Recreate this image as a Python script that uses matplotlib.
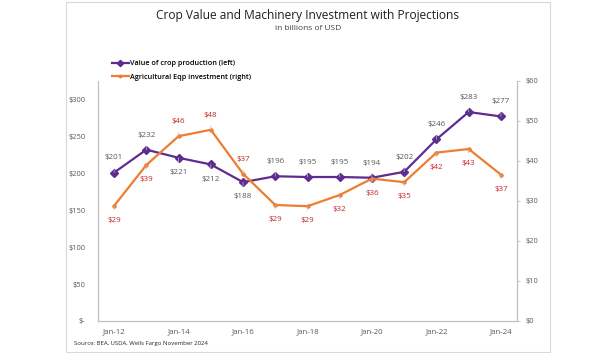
import matplotlib.pyplot as plt
from matplotlib.patches import Rectangle

plt.rcParams['font.family'] = ['Open Sans', 'DejaVu Sans']

# data (billions of USD)
years = ['Jan-12', 'Jan-13', 'Jan-14', 'Jan-15', 'Jan-16', 'Jan-17', 'Jan-18',
         'Jan-19', 'Jan-20', 'Jan-21', 'Jan-22', 'Jan-23', 'Jan-24']
crop_value = [201, 232, 221, 212, 188, 196, 195, 195, 194, 202, 246, 283, 277]
eqp_invest = [28.8, 39.0, 46.2, 47.8, 36.8, 29.0, 28.7, 31.5, 35.6, 34.7, 42.1, 43.0, 36.6]
left_ticks = [0, 50, 100, 150, 200, 250, 300]
right_ticks = [0, 10, 20, 30, 40, 50, 60]

# label side: 1 above, -1 below
crop_side = [1, 1, -1, -1, -1, 1, 1, 1, 1, 1, 1, 1, 1]
eqp_side = [-1, -1, 1, 1, 1, -1, -1, -1, -1, -1, -1, -1, -1]

purple = '#5E2C91'
orange = '#ED7D31'
grey_txt = '#595959'
red_txt = '#C62828'
axis_col = '#BFBFBF'

fig = plt.figure(figsize=(6.16, 3.53), dpi=100)
ax = fig.add_axes([98/616, 1-321/353, (517-98)/616, (321-81)/353])
ax2 = ax.twinx()

x = list(range(len(years)))

ax.plot(x, crop_value, color=purple, lw=1.6, marker='D', ms=4, zorder=3,
        label='Value of crop production (left)')
ax2.plot(x, eqp_invest, color=orange, lw=1.6, marker='o', ms=2.2, zorder=3,
         label='Agricultural Eqp investment (right)')

ax.set_xlim(-0.5, len(years) - 0.5)
ax.set_ylim(0, 325)
ax2.set_ylim(0, 60)

ax.set_xticks(x[::2])
ax.set_xticklabels(years[::2])
ax.set_yticks(left_ticks)
ax.set_yticklabels(['$-' if v == 0 else f'${v}' for v in left_ticks])
ax2.set_yticks(right_ticks)
ax2.set_yticklabels([f'${v}' for v in right_ticks])

for a in (ax, ax2):
    a.spines['top'].set_visible(False)
    for s in ('left', 'right', 'bottom'):
        a.spines[s].set_color(axis_col)
        a.spines[s].set_linewidth(0.8)
ax.tick_params(axis='y', length=0, pad=9, labelsize=5.4, labelcolor=grey_txt)
ax.tick_params(axis='x', length=0, pad=5, labelsize=5.6, labelcolor=grey_txt)
ax2.tick_params(axis='y', length=2, width=0.6, color=axis_col, pad=4,
                labelsize=5.4, labelcolor=grey_txt)

# data labels with leader lines
for i, v in enumerate(crop_value):
    ax.annotate(f'${v:.0f}', xy=(i, v), xytext=(0, 10.5 * crop_side[i]),
                textcoords='offset points', ha='center', va='center',
                fontsize=5.8, color=grey_txt,
                arrowprops=dict(arrowstyle='-', color=axis_col, lw=0.5,
                                shrinkA=3, shrinkB=3))
for i, v in enumerate(eqp_invest):
    ax2.annotate(f'${v:.0f}', xy=(i, v), xytext=(0, 10.5 * eqp_side[i]),
                 textcoords='offset points', ha='center', va='center',
                 fontsize=5.8, color=red_txt,
                 arrowprops=dict(arrowstyle='-', color=axis_col, lw=0.5,
                                 shrinkA=3, shrinkB=3))

# legend above plot area
h1, l1 = ax.get_legend_handles_labels()
h2, l2 = ax2.get_legend_handles_labels()
fig.legend(h1 + h2, l1 + l2, loc='upper left',
           bbox_to_anchor=(112/616, 1-60/353), frameon=False,
           prop={'size': 5.2, 'weight': 'semibold'}, handlelength=2.3,
           handletextpad=0.2, labelspacing=0.95, borderpad=0,
           borderaxespad=0, markerscale=0.8)

fig.text(0.5, 1-15/353, 'Crop Value and Machinery Investment with Projections',
         ha='center', va='center', fontsize=8.6, color='#1F1F1F')
fig.text(0.5, 1-28/353, 'in billions of USD', ha='center', va='center',
         fontsize=6, color='#404040')
fig.text(74/616, 1-344/353, 'Source: BEA, USDA, Wells Fargo November 2024',
         ha='left', va='center', fontsize=4.3, color='#262626')

# outer frame
fig.patches.append(Rectangle((66/616, 1/353), (550-66)/616, 350/353,
                             transform=fig.transFigure, fill=False,
                             edgecolor='#D9D9D9', lw=0.8))

fig.savefig('out.png', dpi=100)
